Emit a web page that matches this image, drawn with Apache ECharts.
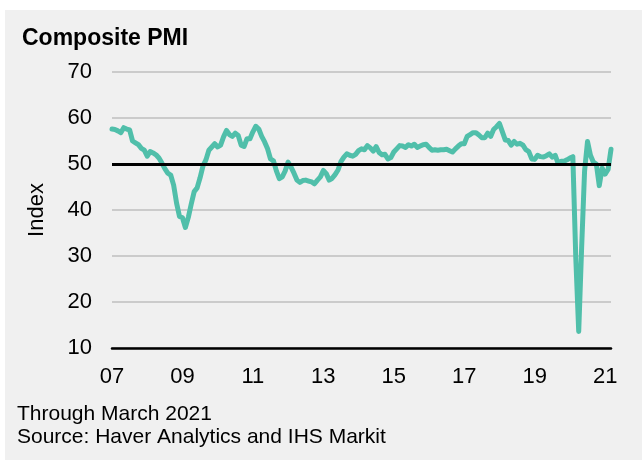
<!DOCTYPE html>
<html>
<head>
<meta charset="utf-8">
<script src="https://cdn.jsdelivr.net/npm/echarts@6/dist/echarts.min.js"></script>
<style>
body{margin:0;background:#fff;}
.wrap{position:relative;width:642px;height:460px;}
.bg{position:absolute;left:5px;top:10px;right:0;bottom:0;background:#f0f0f0;}
#pmichart{position:absolute;left:0;top:0;width:642px;height:460px;}
</style>
</head>
<body>
<div class="wrap">
    <div class="bg"></div>
    <div id="pmichart"></div>
</div>
<script>
// monthly composite PMI, Jan 2007 .. Mar 2021
var startYear = 2007
var pmi2007 = [57.6, 57.5, 57.2, 56.8, 57.9, 57.6, 57.4, 55.0, 54.6, 54.2, 53.4, 53.0]
var pmi2008 = [51.7, 52.7, 52.4, 52.0, 51.3, 50.2, 49.0, 48.0, 47.6, 45.4, 41.5, 38.6]
var pmi2009 = [38.3, 36.2, 38.4, 41.3, 44.0, 44.8, 47.0, 49.6, 50.9, 53.0, 53.7, 54.4]
var pmi2010 = [53.7, 54.1, 55.9, 57.3, 56.4, 56.0, 56.7, 56.2, 54.1, 53.8, 55.5, 55.5]
var pmi2011 = [57.0, 58.2, 57.6, 56.0, 54.8, 53.3, 51.1, 50.7, 48.5, 46.8, 47.2, 48.5]
var pmi2012 = [50.4, 49.3, 48.0, 46.5, 46.0, 46.4, 46.5, 46.3, 46.1, 45.7, 46.5, 47.2]
var pmi2013 = [48.6, 47.9, 46.5, 46.9, 47.7, 48.7, 50.5, 51.5, 52.2, 51.9, 51.7, 52.1]
var pmi2014 = [52.9, 53.3, 53.1, 54.0, 53.5, 52.8, 53.8, 52.5, 52.0, 52.1, 51.1, 51.4]
var pmi2015 = [52.6, 53.3, 54.0, 53.9, 53.6, 54.2, 53.9, 54.3, 53.6, 53.9, 54.2, 54.3]
var pmi2016 = [53.6, 53.0, 53.1, 53.0, 53.1, 53.1, 53.2, 52.9, 52.6, 53.3, 53.9, 54.4]
var pmi2017 = [54.4, 56.0, 56.4, 56.8, 56.8, 56.3, 55.7, 55.7, 56.7, 56.0, 57.5, 58.1]
var pmi2018 = [58.8, 57.0, 55.2, 55.1, 54.1, 54.9, 54.3, 54.5, 54.1, 53.1, 52.7, 51.1]
var pmi2019 = [51.0, 51.9, 51.6, 51.5, 51.8, 52.2, 51.5, 51.9, 50.1, 50.6, 50.6, 50.9]
var pmi2020 = [51.3, 51.6, 29.7, 13.6, 31.9, 48.5, 54.9, 51.9, 50.4, 50.0, 45.3, 49.1]
var pmi2021 = [47.8, 48.8, 53.2]

var tickLabels = ['07', '09', '11', '13', '15', '17', '19', '21']

var pmiValues = [].concat(pmi2007, pmi2008, pmi2009, pmi2010, pmi2011, pmi2012, pmi2013,
    pmi2014, pmi2015, pmi2016, pmi2017, pmi2018, pmi2019, pmi2020, pmi2021)

var months = []
for (var i = 0; i < pmiValues.length; i++) {
    var y = startYear + Math.floor(i / 12)
    var m = i % 12 + 1
    months.push(y + '-' + (m < 10 ? '0' + m : m))
}

var fontName = '"Liberation Sans", Arial, sans-serif'

var chart = echarts.init(document.getElementById('pmichart'))
chart.setOption({
    backgroundColor: 'transparent',
    animation: false,
    title: {
        text: 'Composite PMI',
        left: 17,
        top: 22,
        textStyle: {
            fontFamily: fontName,
            fontSize: 23,
            fontWeight: 'bold',
            color: '#000'
        }
    },
    grid: {
        left: 112,
        right: 31,
        top: 72,
        bottom: 112
    },
    xAxis: {
        type: 'category',
        data: months,
        boundaryGap: false,
        axisLine: {
            lineStyle: { color: '#000', width: 2.5 }
        },
        axisTick: { show: false },
        splitLine: { show: false },
        axisLabel: {
            interval: function (idx) {
                return idx % 24 === 0
            },
            formatter: function (val, idx) {
                return tickLabels[idx / 24]
            },
            margin: 18,
            fontFamily: fontName,
            fontSize: 22,
            color: '#000'
        }
    },
    yAxis: {
        type: 'value',
        min: 10,
        max: 70,
        interval: 10,
        name: 'Index',
        nameLocation: 'middle',
        nameGap: 64,
        nameTextStyle: {
            fontFamily: fontName,
            fontSize: 22,
            color: '#000'
        },
        axisLine: { show: false },
        axisTick: { show: false },
        axisLabel: {
            margin: 20,
            fontFamily: fontName,
            fontSize: 22,
            color: '#000'
        },
        splitLine: {
            lineStyle: { color: '#cbcbcb', width: 2 }
        }
    },
    graphic: [
        {
            type: 'text',
            left: 17,
            top: 404,
            style: {
                text: 'Through March 2021',
                font: '21px ' + fontName,
                fill: '#000'
            }
        },
        {
            type: 'text',
            left: 17,
            top: 427,
            style: {
                text: 'Source: Haver Analytics and IHS Markit',
                font: '21px ' + fontName,
                fill: '#000'
            }
        }
    ],
    series: [{
        type: 'line',
        data: pmiValues,
        showSymbol: false,
        lineStyle: {
            color: '#50bfaa',
            width: 5,
            cap: 'round',
            join: 'round'
        },
        itemStyle: { color: '#50bfaa' },
        markLine: {
            silent: true,
            symbol: 'none',
            label: { show: false },
            lineStyle: { color: '#000', width: 3, type: 'solid' },
            data: [{ yAxis: 50 }]
        }
    }]
})
</script>
</body>
</html>
